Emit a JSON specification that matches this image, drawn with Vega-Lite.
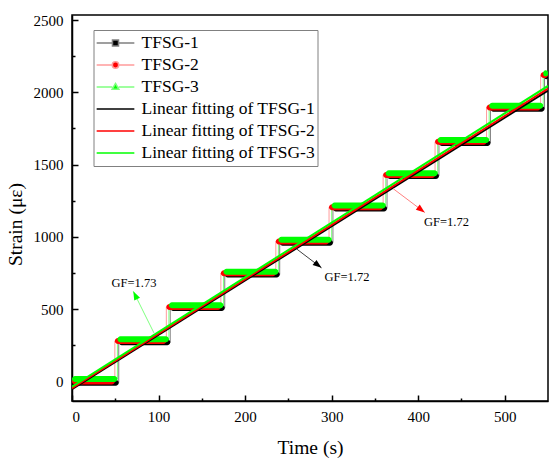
{
  "$schema": "https://vega.github.io/schema/vega-lite/v6.json",
  "width": 476,
  "height": 386,
  "autosize": {"type": "none"},
  "padding": {"left": 72, "top": 15, "right": 9, "bottom": 65},
  "background": "white",
  "config": {
    "view": {"stroke": "black", "strokeWidth": 1.5},
    "font": "Liberation Serif",
    "axis": {
      "domainColor": "black", "domainWidth": 1.5,
      "tickColor": "black", "tickWidth": 1.5,
      "labelColor": "black", "titleColor": "black",
      "labelFont": "Liberation Serif", "titleFont": "Liberation Serif",
      "labelFontSize": 15, "titleFontSize": 19.5, "titleFontWeight": "normal",
      "grid": false
    },
    "legend": {
      "orient": "none", "legendX": 21.5, "legendY": 15,
      "strokeColor": "#808080", "fillColor": "white",
      "padding": 2, "rowPadding": 0, "clipHeight": 22,
      "symbolSize": 1420, "symbolStrokeWidth": 1.5, "symbolOpacity": 1,
      "labelFont": "Liberation Serif", "labelFontSize": 17.5, "labelColor": "black",
      "labelOffset": 6, "labelLimit": 400
    }
  },
  "datasets": {
    "legendrows": [
      {"name": "TFSG-1"}, {"name": "TFSG-2"}, {"name": "TFSG-3"},
      {"name": "Linear fitting of TFSG-1"}, {"name": "Linear fitting of TFSG-2"}, {"name": "Linear fitting of TFSG-3"}
    ],
    "steps": [
      {"name": "TFSG-1", "start": 0, "end": 54, "level": -8},
      {"name": "TFSG-1", "start": 54, "end": 113.5, "level": 272},
      {"name": "TFSG-1", "start": 113.5, "end": 176.5, "level": 508},
      {"name": "TFSG-1", "start": 176.5, "end": 240, "level": 740},
      {"name": "TFSG-1", "start": 240, "end": 301.5, "level": 960},
      {"name": "TFSG-1", "start": 301.5, "end": 364, "level": 1197},
      {"name": "TFSG-1", "start": 364, "end": 424, "level": 1421},
      {"name": "TFSG-1", "start": 424, "end": 483.5, "level": 1650},
      {"name": "TFSG-1", "start": 483.5, "end": 546, "level": 1887},
      {"name": "TFSG-1", "start": 546, "end": 550, "level": 2111},
      {"name": "TFSG-2", "start": 0, "end": 49.5, "level": 0},
      {"name": "TFSG-2", "start": 49.5, "end": 109, "level": 280},
      {"name": "TFSG-2", "start": 109, "end": 172, "level": 516},
      {"name": "TFSG-2", "start": 172, "end": 235.5, "level": 748},
      {"name": "TFSG-2", "start": 235.5, "end": 297, "level": 968},
      {"name": "TFSG-2", "start": 297, "end": 359.5, "level": 1205},
      {"name": "TFSG-2", "start": 359.5, "end": 419.5, "level": 1429},
      {"name": "TFSG-2", "start": 419.5, "end": 479, "level": 1658},
      {"name": "TFSG-2", "start": 479, "end": 541.5, "level": 1895},
      {"name": "TFSG-2", "start": 541.5, "end": 550, "level": 2119},
      {"name": "TFSG-3", "start": 0, "end": 52.5, "level": 18},
      {"name": "TFSG-3", "start": 52.5, "end": 112, "level": 292},
      {"name": "TFSG-3", "start": 112, "end": 175, "level": 528},
      {"name": "TFSG-3", "start": 175, "end": 238.5, "level": 760},
      {"name": "TFSG-3", "start": 238.5, "end": 300, "level": 980},
      {"name": "TFSG-3", "start": 300, "end": 362.5, "level": 1217},
      {"name": "TFSG-3", "start": 362.5, "end": 422.5, "level": 1441},
      {"name": "TFSG-3", "start": 422.5, "end": 482, "level": 1670},
      {"name": "TFSG-3", "start": 482, "end": 544.5, "level": 1907},
      {"name": "TFSG-3", "start": 544.5, "end": 550, "level": 2131}
    ],
    "fits": [
      {"name": "Linear fitting of TFSG-1", "t": 0, "strain": -52},
      {"name": "Linear fitting of TFSG-1", "t": 550, "strain": 2012},
      {"name": "Linear fitting of TFSG-2", "t": 0, "strain": -46},
      {"name": "Linear fitting of TFSG-2", "t": 550, "strain": 2025},
      {"name": "Linear fitting of TFSG-3", "t": 0, "strain": -36},
      {"name": "Linear fitting of TFSG-3", "t": 550, "strain": 2044}
    ],
    "arrows": [
      {"id": "green", "tx": 94.7, "ty": 336, "hx": 70.8, "hy": 624},
      {"id": "black", "tx": 259.5, "ty": 917, "hx": 288.3, "hy": 786},
      {"id": "red", "tx": 371, "ty": 1334, "hx": 407.6, "hy": 1169}
    ],
    "notes": [
      {"label": "GF=1.73", "t": 71.6, "strain": 680},
      {"label": "GF=1.72", "t": 317.8, "strain": 726},
      {"label": "GF=1.72", "t": 432.7, "strain": 1101}
    ]
  },
  "resolve": {"axis": {"x": "independent", "y": "independent"}},
  "layer": [
    {
      "data": {"name": "legendrows"},
      "mark": {"type": "point", "filled": true, "size": 1420, "strokeWidth": 1.5, "opacity": 1},
      "encoding": {
        "x": {"field": "t", "type": "quantitative", "scale": {"domain": [0, 550], "nice": false, "zero": false}, "axis": null},
        "y": {"field": "strain", "type": "quantitative", "scale": {"domain": [-100, 2500], "nice": false, "zero": false}, "axis": null},
        "fill": {
          "field": "name", "type": "nominal",
          "scale": {
            "domain": ["TFSG-1", "TFSG-2", "TFSG-3", "Linear fitting of TFSG-1", "Linear fitting of TFSG-2", "Linear fitting of TFSG-3"],
            "range": ["black", "red", "#00ff00", "black", "red", "#00ff00"]
          },
          "legend": {"title": null, "symbolOpacity": 1}
        },
        "stroke": {
          "field": "name", "type": "nominal",
          "scale": {
            "domain": ["TFSG-1", "TFSG-2", "TFSG-3", "Linear fitting of TFSG-1", "Linear fitting of TFSG-2", "Linear fitting of TFSG-3"],
            "range": ["#808080", "#ff9c9c", "#80ff80", "black", "red", "#00ff00"]
          },
          "legend": {"title": null, "symbolOpacity": 1}
        },
        "shape": {
          "field": "name", "type": "nominal",
          "scale": {
            "domain": ["TFSG-1", "TFSG-2", "TFSG-3", "Linear fitting of TFSG-1", "Linear fitting of TFSG-2", "Linear fitting of TFSG-3"],
            "range": [
              "M-1,0H-0.16M0.16,0H1M-0.16,-0.16H0.16V0.16H-0.16Z",
              "M-1,0H-0.17M0.17,0H1M-0.17,0A0.17,0.17,0,1,0,0.17,0A0.17,0.17,0,1,0,-0.17,0Z",
              "M-1,0H-0.17M0.17,0H1M0,-0.19L0.18,0.12L-0.18,0.12Z",
              "M-1,0H1", "M-1,0H1", "M-1,0H1"
            ]
          },
          "legend": {"title": null, "symbolOpacity": 1}
        }
      }
    },
    {
      "data": {"name": "steps"},
      "mark": {"type": "line", "interpolate": "step-after", "strokeWidth": 1},
      "encoding": {
        "x": {"field": "start", "type": "quantitative", "axis": {"orient": "bottom", "values": [0, 100, 200, 300, 400, 500], "format": "d", "tickSize": -6, "labelPadding": 14, "title": "Time (s)", "titlePadding": 14, "encode": {"title": {"update": {"fontWeight": {"value": "normal"}}}}}},
        "y": {"field": "level", "type": "quantitative", "axis": {"orient": "left", "values": [0, 500, 1000, 1500, 2000, 2500], "format": "d", "tickSize": -6, "labelPadding": 15, "title": "Strain (με)", "titlePadding": 8, "titleY": 209, "encode": {"title": {"update": {"fontWeight": {"value": "normal"}}}}}},
        "stroke": {"field": "name", "type": "nominal"}
      }
    },
    {
      "data": {"name": "steps"},
      "mark": {"type": "bar", "height": 6, "cornerRadius": 3, "clip": true},
      "encoding": {
        "x": {"field": "start", "type": "quantitative", "axis": {"orient": "bottom", "values": [50, 150, 250, 350, 450], "tickSize": -3, "labels": false, "domain": false, "title": null}},
        "x2": {"field": "end"},
        "y": {"field": "level", "type": "quantitative", "axis": {"orient": "left", "values": [250, 750, 1250, 1750, 2250], "tickSize": -3, "labels": false, "domain": false, "title": null}},
        "fill": {"field": "name", "type": "nominal"}
      }
    },
    {
      "data": {"name": "fits"},
      "mark": {"type": "line", "strokeWidth": 2, "clip": true},
      "encoding": {
        "x": {"field": "t", "type": "quantitative", "axis": null},
        "y": {"field": "strain", "type": "quantitative", "axis": null},
        "stroke": {"field": "name", "type": "nominal"}
      }
    },
    {
      "data": {"name": "arrows"},
      "transform": [{"filter": "datum.id === 'green'"}],
      "mark": {"type": "rule", "color": "#80ff80", "strokeWidth": 1},
      "encoding": {
        "x": {"field": "tx", "type": "quantitative", "axis": null},
        "y": {"field": "ty", "type": "quantitative", "axis": null},
        "x2": {"field": "hx"},
        "y2": {"field": "hy"}
      }
    },
    {
      "data": {"name": "arrows"},
      "transform": [{"filter": "datum.id === 'black'"}],
      "mark": {"type": "rule", "color": "#404040", "strokeWidth": 1},
      "encoding": {
        "x": {"field": "tx", "type": "quantitative", "axis": null},
        "y": {"field": "ty", "type": "quantitative", "axis": null},
        "x2": {"field": "hx"},
        "y2": {"field": "hy"}
      }
    },
    {
      "data": {"name": "arrows"},
      "transform": [{"filter": "datum.id === 'red'"}],
      "mark": {"type": "rule", "color": "#ff8080", "strokeWidth": 1},
      "encoding": {
        "x": {"field": "tx", "type": "quantitative", "axis": null},
        "y": {"field": "ty", "type": "quantitative", "axis": null},
        "x2": {"field": "hx"},
        "y2": {"field": "hy"}
      }
    },
    {
      "data": {"name": "arrows"},
      "transform": [{"filter": "datum.id === 'green'"}],
      "mark": {"type": "point", "filled": true, "shape": "M0,0L0.8,2.2L-0.8,2.2Z", "size": 64, "angle": 334, "color": "#00ff00", "opacity": 1},
      "encoding": {
        "x": {"field": "hx", "type": "quantitative", "axis": null},
        "y": {"field": "hy", "type": "quantitative", "axis": null}
      }
    },
    {
      "data": {"name": "arrows"},
      "transform": [{"filter": "datum.id === 'black'"}],
      "mark": {"type": "point", "filled": true, "shape": "M0,0L0.8,2.2L-0.8,2.2Z", "size": 64, "angle": 127.7, "color": "black", "opacity": 1},
      "encoding": {
        "x": {"field": "hx", "type": "quantitative", "axis": null},
        "y": {"field": "hy", "type": "quantitative", "axis": null}
      }
    },
    {
      "data": {"name": "arrows"},
      "transform": [{"filter": "datum.id === 'red'"}],
      "mark": {"type": "point", "filled": true, "shape": "M0,0L0.8,2.2L-0.8,2.2Z", "size": 64, "angle": 127.6, "color": "red", "opacity": 1},
      "encoding": {
        "x": {"field": "hx", "type": "quantitative", "axis": null},
        "y": {"field": "hy", "type": "quantitative", "axis": null}
      }
    },
    {
      "data": {"name": "notes"},
      "mark": {"type": "text", "font": "Liberation Serif", "fontSize": 12.5, "color": "black", "align": "center", "baseline": "middle"},
      "encoding": {
        "x": {"field": "t", "type": "quantitative", "axis": null},
        "y": {"field": "strain", "type": "quantitative", "axis": null},
        "text": {"field": "label"}
      }
    }
  ]
}
